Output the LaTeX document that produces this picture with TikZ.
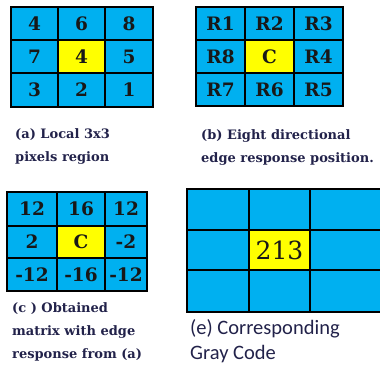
\documentclass[tikz,border=0pt]{standalone}
\usepackage{fontspec}
\setmainfont{DejaVu Serif}
\newfontfamily\capsans{Carlito}
\definecolor{cellblue}{HTML}{00B0F0}
\definecolor{cellyellow}{HTML}{FFFF00}
\definecolor{captext}{HTML}{22224A}
\definecolor{numtext}{HTML}{181818}
% one grid cell: name, x1, y1, x2, y2, text, extra style
\newcommand\gcell[7]{%
  \node[cell,#7,minimum width=#4pt-#2pt,minimum height=#5pt-#3pt]
    (#1) at ({(#2+#4)/2},{(#3+#5)/2}) {#6};}
\begin{document}
\begin{tikzpicture}[x=1pt,y=-1pt,
  cell/.style={draw=black,line width=1.6pt,fill=cellblue,inner sep=0pt,outer sep=0pt,
    text=numtext,font=\bfseries\fontsize{18.5}{18.5}\selectfont},
  centre/.style={fill=cellyellow},
  frame/.style={draw=black,line width=2.6pt},
  caption/.style={anchor=north west,align=left,text=captext,inner sep=0pt,
    font=\bfseries\fontsize{13}{23.5}\selectfont}]
\useasboundingbox (0,0) rectangle (380,366);

% (a) local 3x3 pixel region
\gcell{a11}{11}{7}{58}{40}{4}{}
\gcell{a12}{58}{7}{105}{40}{6}{}
\gcell{a13}{105}{7}{153}{40}{8}{}
\gcell{a21}{11}{40}{58}{73}{7}{}
\gcell{a22}{58}{40}{105}{73}{4}{centre}
\gcell{a23}{105}{40}{153}{73}{5}{}
\gcell{a31}{11}{73}{58}{107}{3}{}
\gcell{a32}{58}{73}{105}{107}{2}{}
\gcell{a33}{105}{73}{153}{107}{1}{}
\draw[frame] (a11.north west) rectangle (a33.south east);
\node[caption] (capa) at (15,128) {(a) Local 3x3\\pixels region};

% (b) edge response positions
\gcell{b11}{196}{7}{245}{40}{R1}{}
\gcell{b12}{245}{7}{294}{40}{R2}{}
\gcell{b13}{294}{7}{343}{40}{R3}{}
\gcell{b21}{196}{40}{245}{73}{R8}{}
\gcell{b22}{245}{40}{294}{73}{C}{centre}
\gcell{b23}{294}{40}{343}{73}{R4}{}
\gcell{b31}{196}{73}{245}{106}{R7}{}
\gcell{b32}{245}{73}{294}{106}{R6}{}
\gcell{b33}{294}{73}{343}{106}{R5}{}
\draw[frame] (b11.north west) rectangle (b33.south east);
\node[caption] (capb) at (201,129) {(b) Eight directional\\edge response position.};

% (c) edge response matrix
\gcell{c11}{7}{192}{57}{226}{12}{}
\gcell{c12}{57}{192}{105}{226}{16}{}
\gcell{c13}{105}{192}{147}{226}{12}{}
\gcell{c21}{7}{226}{57}{258}{2}{}
\gcell{c22}{57}{226}{105}{258}{C}{centre}
\gcell{c23}{105}{226}{147}{258}{-2}{}
\gcell{c31}{7}{258}{57}{291}{-12}{}
\gcell{c32}{57}{258}{105}{291}{-16}{}
\gcell{c33}{105}{258}{147}{291}{-12}{}
\draw[frame] (c11.north west) rectangle (c33.south east);
\node[caption,font=\bfseries\fontsize{13}{23}\selectfont] (capc) at (12,302)
  {(c ) Obtained\\matrix with edge\\response from (a)};

% (e) gray code result; the right column runs off the page edge
\gcell{e11}{187}{189}{249}{230}{}{}
\gcell{e12}{249}{189}{310}{230}{}{}
\gcell{e13}{310}{189}{382}{230}{}{}
\gcell{e21}{187}{230}{249}{270}{}{}
\gcell{e22}{249}{230}{310}{270}{\mdseries\fontsize{25}{25}\selectfont 213}{centre}
\gcell{e23}{310}{230}{382}{270}{}{}
\gcell{e31}{187}{270}{249}{312}{}{}
\gcell{e32}{249}{270}{310}{312}{}{}
\gcell{e33}{310}{270}{382}{312}{}{}
\draw[frame] (e13.north east) -- (e11.north west) -- (e31.south west) -- (e33.south east);
\draw[frame] (e12.north west) -- (e32.south west);
\node[caption,font=\capsans\fontsize{20.5}{25}\selectfont] (cape) at (190,319)
  {(e) Corresponding\\Gray Code};
\end{tikzpicture}
\end{document}
